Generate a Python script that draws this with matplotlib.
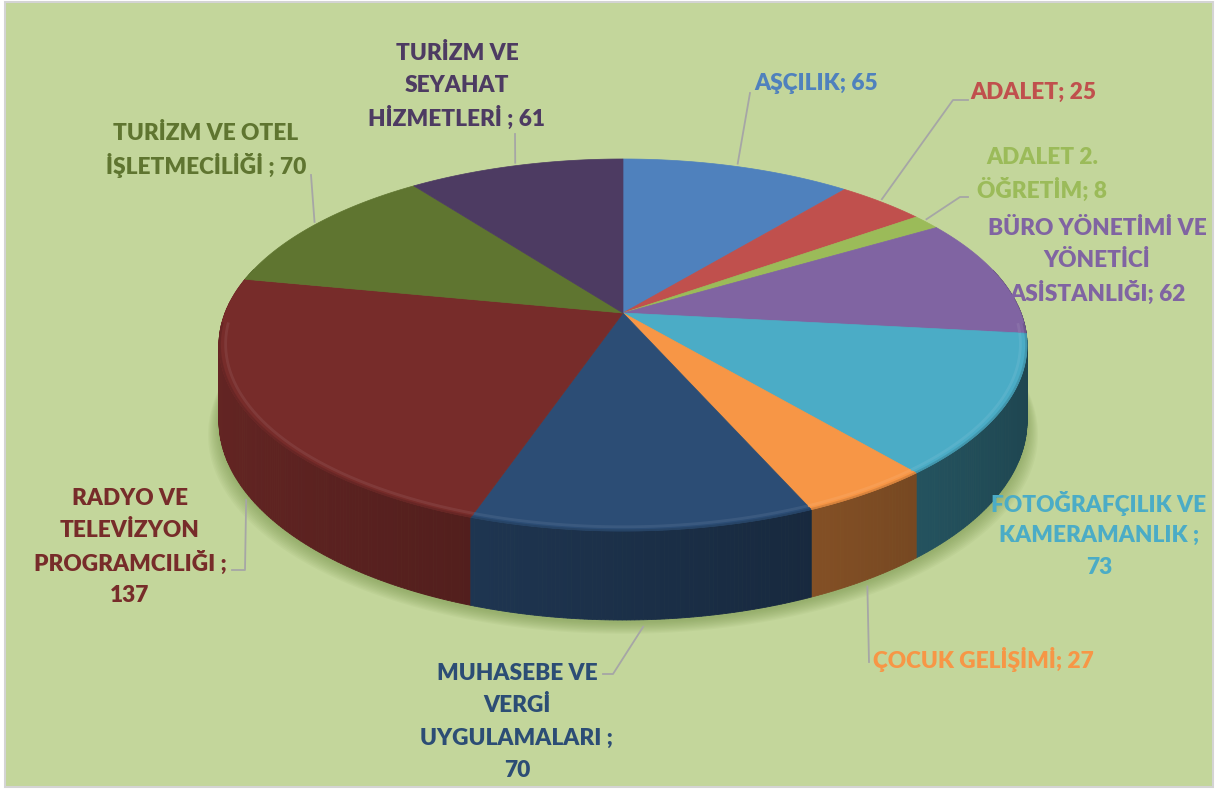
import numpy as np
import matplotlib
matplotlib.use("Agg")
import matplotlib.pyplot as plt
from matplotlib.patches import Polygon, Rectangle
import matplotlib.colors as mcolors

# ---------------- data ----------------
categories = ["AŞÇILIK", "ADALET", "ADALET 2.\nÖĞRETİM",
              "BÜRO YÖNETİMİ VE\nYÖNETİCİ\nASİSTANLIĞI",
              "FOTOĞRAFÇILIK VE\nKAMERAMANLIK", "ÇOCUK GELİŞİMİ",
              "MUHASEBE VE\nVERGİ\nUYGULAMALARI",
              "RADYO VE\nTELEVİZYON\nPROGRAMCILIĞI",
              "TURİZM VE OTEL\nİŞLETMECİLİĞİ",
              "TURİZM VE\nSEYAHAT\nHİZMETLERİ"]
values = [65, 25, 8, 62, 73, 27, 70, 137, 70, 61]
separators = ["; ", "; ", "; ", "; ", " ;\n", "; ", " ;\n", " ;\n", " ; ", " ; "]

# ---------------- styles / layout ----------------
colors = ["#4F81BD", "#C0504D", "#9BBB59", "#8064A2", "#4BACC6",
          "#F79646", "#2C4D75", "#772C2A", "#5F7530", "#4D3B62"]
label_pos = [(816, 83), (1033, 92), (1042, 157), (1097, 228), (1099, 503),
             (983, 659), (517, 673), (130, 498), (206, 133), (457, 53)]
leader_pts = {0: [(750, 93)],
              1: [(953, 100), (968, 100)],
              2: [(960, 197), (968, 197)],
              5: [(869, 662)],
              6: [(613, 674), (603, 674)],
              7: [(245, 570), (232, 570)],
              8: [(311, 175)],
              9: [(515, 134)]}
line_gap = 32.5
FONT = "Lato"
FS = 16.3

W, H = 1215, 789
fig = plt.figure(figsize=(W / 100, H / 100), dpi=100)
fig.patch.set_facecolor("white")
ax = fig.add_axes([0, 0, 1, 1])
ax.set_xlim(0, W)
ax.set_ylim(H, 0)
ax.axis("off")

ax.add_patch(Rectangle((5, 2), 1208, 785, facecolor="#C3D69B",
                       edgecolor="#D4D4D4", lw=1.5, zorder=0))

# pie geometry (perspective projection of a cylinder)
CX, CY = 623, 313
A, B, K = 398, 180.5, 0.172
D = 73.7


def proj(theta_deg, r=1.0, depth=0.0):
    t = np.radians(theta_deg)
    u = r * np.sin(t)
    v = -r * np.cos(t)
    w = 1 - K * v
    return CX + A * u / w, CY + B * v / w + depth * D / w


total = float(sum(values))
angles = np.concatenate([[0], np.cumsum(values)]) / total * 360.0

# soft shadow under the pie
th_all = np.linspace(0, 360, 721)
bx, by = proj(th_all, 1.0, 1.0)
for i in range(10):
    s = 1.0 + 0.003 * i
    sx = CX + (bx - CX) * s
    sy = by + 3 + 1.2 * i
    ax.add_patch(Polygon(np.column_stack([sx, sy]), closed=True,
                         facecolor="#6d8a40", edgecolor="none",
                         alpha=0.06, zorder=1))

# side walls
quads = []
for i in range(len(values)):
    a0, a1 = angles[i], angles[i + 1]
    n = max(2, int((a1 - a0) / 0.5) + 1)
    ts = np.linspace(a0, a1, n)
    base = np.array(mcolors.to_rgb(colors[i]))
    for j in range(n - 1):
        tm = 0.5 * (ts[j] + ts[j + 1])
        vm = -np.cos(np.radians(tm))
        if vm < -0.25:
            continue
        um = np.sin(np.radians(tm))
        f = 0.62 - 0.22 * um
        c = np.clip(base * f, 0, 1)
        x0, y0 = proj(ts[j], 1, 0)
        x1, y1 = proj(ts[j + 1], 1, 0)
        x2, y2 = proj(ts[j + 1], 1, 1)
        x3, y3 = proj(ts[j], 1, 1)
        quads.append((vm, [(x0, y0), (x1, y1), (x2, y2), (x3, y3)], c))
quads.sort(key=lambda q: q[0])
for vm, pts, c in quads:
    ax.add_patch(Polygon(pts, closed=True, facecolor=c, edgecolor=c,
                         lw=0.6, zorder=2))

# top faces
for i in range(len(values)):
    a0, a1 = angles[i], angles[i + 1]
    ts = np.linspace(a0, a1, max(3, int(a1 - a0) * 2))
    xs, ys = proj(ts, 1.0, 0.0)
    pts = np.column_stack([np.r_[CX, xs], np.r_[CY, ys]])
    ax.add_patch(Polygon(pts, closed=True, facecolor=colors[i],
                         edgecolor=colors[i], lw=0.5, zorder=3))

# rim bevel on front edge
for i in range(len(values)):
    a0, a1 = angles[i], angles[i + 1]
    ts = np.linspace(a0, a1, max(3, int(a1 - a0) * 2))
    vv = -np.cos(np.radians(ts))
    ts = ts[vv > 0.05]
    if len(ts) < 2:
        continue
    base = np.array(mcolors.to_rgb(colors[i]))
    light = np.clip(base + (1 - base) * 0.12, 0, 1)
    xs, ys = proj(ts, 0.984, 0.0)
    ax.plot(xs, ys, color=light, lw=2.0, alpha=0.6, zorder=4,
            solid_capstyle="butt")
    dark = base * 0.8
    xs, ys = proj(ts, 0.998, 0.0)
    ax.plot(xs, ys, color=dark, lw=1.5, alpha=0.6, zorder=4,
            solid_capstyle="butt")

# leader lines
for i, pts in leader_pts.items():
    mid = 0.5 * (angles[i] + angles[i + 1])
    vmid = -np.cos(np.radians(mid))
    if vmid > 0.3:
        sx, sy = proj(mid, 1.0, 1.0)
        sy += 7
    else:
        sx, sy = proj(mid, 1.0, 0.0)
        sy -= 3
    xs = [sx] + [p[0] for p in pts]
    ys = [sy] + [p[1] for p in pts]
    ax.plot(xs, ys, color="#A6A6A6", lw=1.3, zorder=5)

# labels
for i in range(len(values)):
    text = categories[i] + separators[i] + str(values[i])
    x0, y0 = label_pos[i]
    for k, line in enumerate(text.split("\n")):
        ax.text(x0, y0 + k * line_gap, line, ha="center", va="center",
                fontsize=FS, fontweight=800, family=FONT,
                color=colors[i], zorder=6)

fig.savefig("out.png", dpi=100, facecolor=fig.get_facecolor())
